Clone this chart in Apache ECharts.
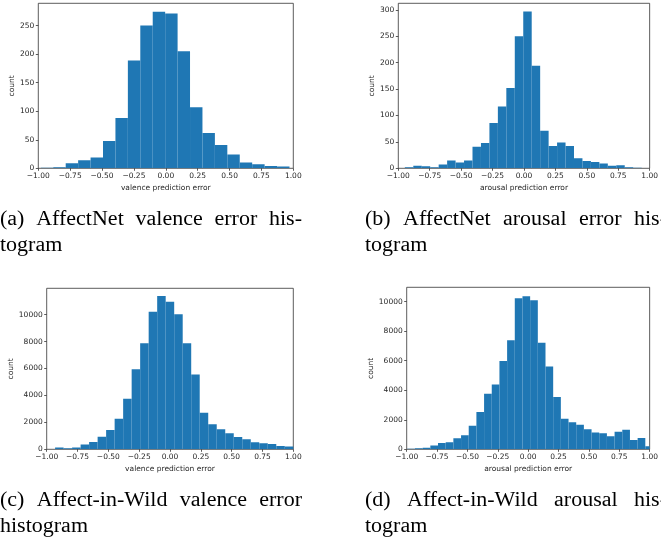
<!DOCTYPE html>
<html><head><meta charset="utf-8">
<script src="https://cdn.jsdelivr.net/npm/echarts@6/dist/echarts.min.js"></script>
<style>html,body{margin:0;padding:0;background:#fff}#c{width:661px;height:539px}</style>
</head><body><div id="c"></div>
<script>
// X tick labels (shared)
const xTicks = [-1, -0.75, -0.5, -0.25, 0, 0.25, 0.5, 0.75, 1];

// (a) AffectNet valence
const aStart = -0.98, aWidth = 0.0975;
const aCounts = [1, 2, 9, 14, 19, 48, 88, 189, 250, 274, 271, 205, 107, 62, 41, 24, 10, 7, 4, 3];
const aYTicks = [0, 50, 100, 150, 200, 250];

// (b) AffectNet arousal
const bStart = -0.948, bWidth = 0.0673;
const bCounts = [2, 5, 4, 2, 7, 15, 11, 15, 41, 48, 86, 117, 152, 250, 297, 194, 71, 42, 49, 42, 19, 14, 12, 9, 5, 6, 2, 1];
const bYTicks = [0, 50, 100, 150, 200, 250, 300];

// (c) Affect-in-Wild valence
const cStart = -0.932, cWidth = 0.069;
const cCounts = [125, 75, 125, 350, 545, 940, 1435, 2277, 3762, 5940, 7870, 10220, 11385, 10965, 10025, 7870, 5545, 2720, 1856, 1485, 1188, 916, 743, 520, 445, 396, 250, 200];
const cYTicks = [0, 2000, 4000, 6000, 8000, 10000];

// (d) Affect-in-Wild arousal
const dStart = -0.995, dWidth = 0.0632;
const dCounts = [40, 70, 110, 250, 430, 475, 745, 950, 1600, 2530, 3770, 4380, 5980, 7380, 10225, 10360, 10090, 7220, 5600, 3545, 2075, 1830, 1670, 1355, 1130, 1085, 880, 1195, 1330, 630, 770, 200];
const dYTicks = [0, 2000, 4000, 6000, 8000, 10000];

const captions = [
  ["(a) AffectNet valence error his-", "togram"],
  ["(b) AffectNet arousal error his-", "togram"],
  ["(c) Affect-in-Wild valence error", "histogram"],
  ["(d) Affect-in-Wild arousal his-", "togram"]
];
const xNames = ["valence prediction error", "arousal prediction error", "valence prediction error", "arousal prediction error"];

const panels = [
  {start: aStart, width: aWidth, counts: aCounts, yt: aYTicks, ymax: 289, grid: {left: 38.3, top: 3.3, width: 255, height: 165}},
  {start: bStart, width: bWidth, counts: bCounts, yt: bYTicks, ymax: 312.5, grid: {left: 398.3, top: 3.3, width: 255, height: 165}},
  {start: cStart, width: cWidth, counts: cCounts, yt: cYTicks, ymax: 11955, grid: {left: 46.7, top: 288.3, width: 246.6, height: 161}},
  {start: dStart, width: dWidth, counts: dCounts, yt: dYTicks, ymax: 10970, grid: {left: 406.7, top: 287.3, width: 246.6, height: 162}}
];

const fmtX = v => (v < 0 ? '\u2212' : '') + Math.abs(v).toFixed(2);
const tickFont = {fontFamily: 'DejaVu Sans', fontSize: 7.5, color: '#262626'};

function renderItem(params, api) {
  const x0 = api.value(0), x1 = api.value(1), y = api.value(2);
  const p0 = api.coord([x0, y]);
  const p1 = api.coord([x1, 0]);
  const cs = params.coordSys;
  const shape = echarts.graphic.clipRectByRect(
    {x: p0[0], y: p0[1], width: p1[0] - p0[0], height: p1[1] - p0[1]},
    {x: cs.x, y: cs.y, width: cs.width, height: cs.height});
  return shape && {type: 'rect', shape: shape, style: {fill: '#1f77b4'}};
}

const option = {
  animation: false,
  backgroundColor: '#fff',
  grid: [], xAxis: [], yAxis: [], series: [], graphic: []
};

panels.forEach((p, i) => {
  option.grid.push(Object.assign({show: true, borderColor: '#333', borderWidth: 0.8, containLabel: false}, p.grid));
  option.xAxis.push({
    type: 'value', gridIndex: i, min: -1, max: 1, interval: 0.25,
    name: xNames[i], nameLocation: 'middle', nameGap: 15.5,
    nameTextStyle: {fontFamily: 'DejaVu Sans', fontSize: 7.5, color: '#262626'},
    axisLine: {show: false, onZero: false},
    axisTick: {show: true, length: 2.5, lineStyle: {color: '#333', width: 0.8}, customValues: xTicks},
    axisLabel: Object.assign({margin: 4, formatter: fmtX, customValues: xTicks}, tickFont),
    splitLine: {show: false}
  });
  option.yAxis.push({
    type: 'value', gridIndex: i, min: 0, max: p.ymax,
    name: 'count', nameLocation: 'middle', nameRotate: 90, nameGap: i < 2 ? 22 : 30,
    nameTextStyle: {fontFamily: 'DejaVu Sans', fontSize: 7.5, color: '#262626'},
    axisLine: {show: false, onZero: false},
    axisTick: {show: true, length: 2.5, lineStyle: {color: '#333', width: 0.8}, customValues: p.yt},
    axisLabel: Object.assign({margin: 4, formatter: v => String(v), customValues: p.yt}, tickFont),
    splitLine: {show: false}
  });
  option.series.push({
    type: 'custom', xAxisIndex: i, yAxisIndex: i, clip: true,
    renderItem: renderItem,
    encode: {x: [0, 1], y: 2},
    data: p.counts.map((c, k) => [p.start + k * p.width, p.start + (k + 1) * p.width, c])
  });
});

// Captions: first line justified across the column, second line left aligned
const capFont = '20px "Liberation Serif"';
const capScale = 1.1;
const ctx = document.createElement('canvas').getContext('2d');
ctx.font = capFont;
const colLeft = [0, 365, 0, 365];
const colWidth = 302;
const capTop = [210, 210, 491, 491];
captions.forEach((lines, i) => {
  const words = lines[0].split(' ');
  const widths = words.map(w => ctx.measureText(w).width * capScale);
  const total = widths.reduce((s, w) => s + w, 0);
  const gap = (colWidth - total) / (words.length - 1);
  let x = colLeft[i];
  words.forEach((w, k) => {
    option.graphic.push({type: 'text', x: x, y: capTop[i], scaleX: capScale, style: {text: w, font: capFont, fill: '#000'}});
    x += widths[k] + gap;
  });
  option.graphic.push({type: 'text', x: colLeft[i], y: capTop[i] + 25.5, scaleX: capScale, style: {text: lines[1], font: capFont, fill: '#000'}});
});

const chart = echarts.init(document.getElementById('c'), null, {renderer: 'canvas'});
chart.setOption(option);
</script></body></html>
